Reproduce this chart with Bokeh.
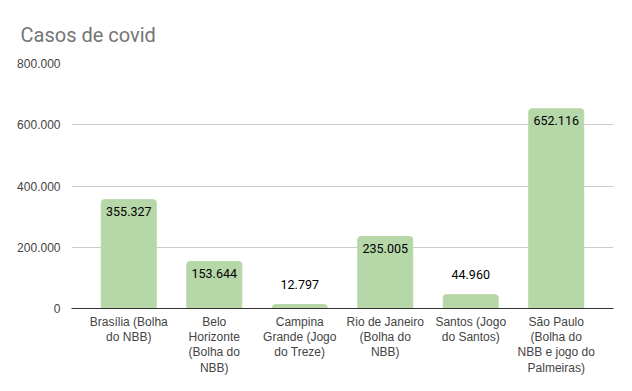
from bokeh.plotting import figure
from bokeh.models import ColumnDataSource, CustomJSTickFormatter, FixedTicker, Range1d, Title, FactorRange
from bokeh.core.properties import value
from bokeh.embed import file_html
from bokeh.resources import INLINE

categories = [
    "Brasília (Bolha\ndo NBB)",
    "Belo\nHorizonte\n(Bolha do\nNBB)",
    "Campina\nGrande (Jogo\ndo Treze)",
    "Rio de Janeiro\n(Bolha do\nNBB)",
    "Santos (Jogo\ndo Santos)",
    "São Paulo\n(Bolha do\nNBB e jogo do\nPalmeiras)",
]
casos = [355327, 153644, 12797, 235005, 44960, 652116]
y_ticks = [0, 200000, 400000, 600000, 800000]

def fmt(v):
    return f"{v:,}".replace(",", ".")

labels = [fmt(v) for v in casos]
inside = [v > 100000 for v in casos]
offsets = [12 if i else -20 for i in inside]

src = ColumnDataSource(dict(cat=categories, casos=casos, label=labels, off=offsets))

x_range = FactorRange(factors=categories, range_padding=0.17, range_padding_units="absolute")

p = figure(x_range=x_range, y_range=Range1d(0, 800000),
           frame_width=542, frame_height=245,
           output_backend="svg", toolbar_location=None,
           min_border_left=71, min_border_right=11, min_border_bottom=60, min_border_top=63)

t = Title(text="Casos de covid", text_font="Roboto", text_font_size="20px",
          text_font_style="normal", text_color="#757575", align="left",
          offset=-51, standoff=33)
p.title = t

p.vbar(x="cat", top="casos", width=0.643, source=src, color="#b6d7a8",
       border_radius=[3, 3, 0, 0])
p.text(x="cat", y="casos", text="label", y_offset="off", source=src,
       text_align="center", text_baseline="middle", text_font=value("Roboto"),
       text_font_size="12.5px", text_color="#000000")

p.outline_line_color = None
p.xgrid.grid_line_color = None
p.ygrid.grid_line_color = "#cccccc"
p.ygrid.ticker = FixedTicker(ticks=y_ticks)

p.yaxis.ticker = FixedTicker(ticks=y_ticks)
p.yaxis.formatter = CustomJSTickFormatter(code="return tick.toFixed(0).replace(/\\B(?=(\\d{3})+(?!\\d))/g, '.');")
p.yaxis.axis_line_color = None
p.yaxis.major_tick_line_color = None
p.yaxis.minor_tick_line_color = None
p.yaxis.major_label_text_font = "Liberation Sans"
p.yaxis.major_label_text_font_size = "12px"
p.yaxis.major_label_standoff = 5

p.xaxis.axis_line_color = "#333333"
p.xaxis.major_tick_line_color = None
p.xaxis.minor_tick_line_color = None
p.xaxis.major_label_text_font = "Liberation Sans"
p.xaxis.major_label_text_font_size = "12px"
p.xaxis.major_label_standoff = 0
p.xaxis.major_label_text_line_height = 1.1

open("out.html", "w").write(file_html(p, INLINE))
